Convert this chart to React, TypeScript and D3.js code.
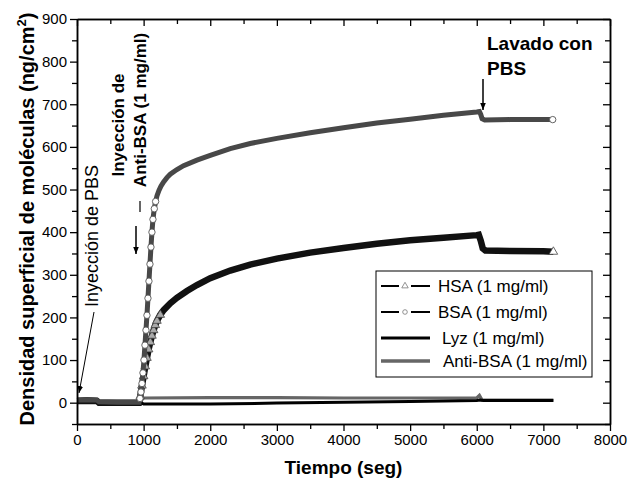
import React, { useEffect, useRef } from 'react';
import * as d3 from 'd3';

// time (s) vs surface density (ng/cm2)
const hsa: [number, number][] = [
  [0, 4], [150, 4], [300, 4], [330, 0], [600, 0], [930, 0], [950, 15], [975, 40],
  [1000, 62], [1025, 85], [1050, 105], [1075, 125], [1100, 142], [1125, 157],
  [1150, 170], [1175, 182], [1200, 192], [1250, 206], [1300, 217], [1400, 233],
  [1500, 246], [1650, 262], [1800, 276], [2000, 292], [2300, 310], [2600, 324],
  [3000, 338], [3500, 352], [4000, 363], [4500, 373], [5000, 381], [5500, 387],
  [6000, 393], [6030, 394], [6060, 380], [6090, 362], [6130, 357], [6500, 356],
  [7000, 355], [7150, 354]
];
const bsa: [number, number][] = [
  [0, 6], [150, 7], [300, 6], [330, 2], [600, 1], [930, 1], [945, 10], [960, 25],
  [975, 45], [990, 70], [1005, 100], [1020, 135], [1035, 170], [1050, 205],
  [1065, 245], [1080, 285], [1095, 325], [1110, 365], [1125, 400], [1140, 430],
  [1160, 455], [1180, 472], [1200, 485], [1230, 498], [1260, 508], [1300, 518],
  [1350, 528], [1400, 536], [1500, 547], [1600, 556], [1800, 569], [2000, 580],
  [2300, 596], [2600, 608], [3000, 620], [3500, 633], [4000, 645], [4500, 656],
  [5000, 665], [5500, 674], [6000, 682], [6040, 683], [6060, 676], [6080, 666],
  [6120, 663], [6500, 664], [7000, 664], [7140, 664]
];
const lyz: [number, number][] = [
  [0, 8], [150, 9], [300, 8], [330, 3], [600, 2], [940, 2], [1000, -3], [2000, -3],
  [3000, -1], [4000, 1], [5000, 3], [6000, 5], [6050, 6], [6100, 5], [7150, 5]
];
const antiBsa: [number, number][] = [
  [0, 3], [300, 4], [330, 0], [600, 0], [940, 1], [1000, 11], [2000, 12], [3000, 12],
  [4000, 11], [5000, 11], [6000, 11], [6040, 17], [6080, 6], [7150, 6]
];

const xTicks = [0, 1000, 2000, 3000, 4000, 5000, 6000, 7000, 8000];
const xMinor = [500, 1500, 2500, 3500, 4500, 5500, 6500, 7500];
const yTicks = [0, 100, 200, 300, 400, 500, 600, 700, 800, 900];
const yMinor = [-50, 50, 150, 250, 350, 450, 550, 650, 750, 850];
const legendLabels = ['HSA (1 mg/ml)', 'BSA (1 mg/ml)', 'Lyz (1 mg/ml)', 'Anti-BSA (1 mg/ml)'];

const FONT = '"Liberation Sans", Arial, Helvetica, sans-serif';

export default function App() {
  const ref = useRef<SVGSVGElement>(null);

  useEffect(() => {
    const svg = d3.select(ref.current);
    svg.selectAll('*').remove();

    const left = 77, right = 610, top = 19, bottom = 424;

    const x = d3.scaleLinear().domain([0, 8000]).range([left, right]);
    const y = d3.scaleLinear().domain([-50, 900]).range([bottom, top]);

    const defs = svg.append('defs');
    defs.append('marker')
      .attr('id', 'arrow')
      .attr('viewBox', '0 0 10 10')
      .attr('refX', 10).attr('refY', 5)
      .attr('markerWidth', 7).attr('markerHeight', 7)
      .attr('markerUnits', 'userSpaceOnUse')
      .attr('orient', 'auto')
      .append('path').attr('d', 'M0,1 L10,5 L0,9 Z').attr('fill', '#000');

    const line = d3.line<[number, number]>().x(d => x(d[0])).y(d => y(d[1]));

    // near-zero series
    svg.append('path').attr('d', line(antiBsa)).attr('fill', 'none')
      .attr('stroke', '#666').attr('stroke-width', 3.2);
    svg.append('path').attr('d', line(lyz)).attr('fill', 'none')
      .attr('stroke', '#000').attr('stroke-width', 3);

    // HSA band + triangles in the rise
    svg.append('path').attr('d', line(hsa)).attr('fill', 'none')
      .attr('stroke', '#111').attr('stroke-width', 6.5);
    const hsaMarks = hsa.filter((d, i) => (d[0] > 930 && d[0] <= 1250) || i === hsa.length - 1);
    svg.append('g').selectAll('path').data(hsaMarks).enter().append('path')
      .attr('d', d3.symbol().type(d3.symbolTriangle).size(32)())
      .attr('transform', d => 'translate(' + x(d[0]) + ',' + y(d[1]) + ')')
      .attr('fill', (d, i) => i === hsaMarks.length - 1 ? '#fff' : '#aaa')
      .attr('stroke', '#444').attr('stroke-width', 0.8);

    // BSA band + circles in the rise
    svg.append('path').attr('d', line(bsa)).attr('fill', 'none')
      .attr('stroke', '#484848').attr('stroke-width', 5);
    const bsaMarks = bsa.filter((d, i) => (d[0] > 930 && d[0] <= 1180) || i === bsa.length - 1);
    svg.append('g').selectAll('circle').data(bsaMarks).enter().append('circle')
      .attr('cx', d => x(d[0])).attr('cy', d => y(d[1])).attr('r', 3.2)
      .attr('fill', '#fff').attr('stroke', '#555').attr('stroke-width', 0.9);

    // axes
    const styleAxis = (g: any) => {
      g.select('.domain').attr('stroke-width', 1.5);
      g.selectAll('.tick line').attr('stroke-width', 1.3);
      g.selectAll('text').attr('font-family', FONT).attr('font-size', 15).attr('fill', '#000');
    };
    const fmt = d3.format('d');

    svg.append('g').attr('transform', 'translate(0,' + bottom + ')')
      .call(d3.axisBottom(x).tickValues(xTicks).tickFormat(fmt).tickSize(7).tickSizeOuter(0).tickPadding(3))
      .call(styleAxis);
    svg.append('g').attr('transform', 'translate(0,' + bottom + ')')
      .call(d3.axisBottom(x).tickValues(xMinor).tickSize(5).tickFormat(() => '').tickSizeOuter(0))
      .call(styleAxis);
    svg.append('g').attr('transform', 'translate(' + left + ',0)')
      .call(d3.axisLeft(y).tickValues(yTicks).tickFormat(fmt).tickSize(7).tickSizeOuter(0).tickPadding(3))
      .call(styleAxis);
    svg.append('g').attr('transform', 'translate(' + left + ',0)')
      .call(d3.axisLeft(y).tickValues(yMinor).tickSize(5).tickFormat(() => '').tickSizeOuter(0))
      .call(styleAxis);
    svg.append('g').attr('transform', 'translate(0,' + top + ')')
      .call(d3.axisTop(x).tickValues(xTicks).tickSize(-7).tickFormat(() => '').tickSizeOuter(0))
      .call(styleAxis);
    svg.append('g').attr('transform', 'translate(0,' + top + ')')
      .call(d3.axisTop(x).tickValues(xMinor).tickSize(-5).tickFormat(() => '').tickSizeOuter(0))
      .call(styleAxis);
    svg.append('g').attr('transform', 'translate(' + right + ',0)')
      .call(d3.axisRight(y).tickValues(yTicks).tickSize(-7).tickFormat(() => '').tickSizeOuter(0))
      .call(styleAxis);
    svg.append('g').attr('transform', 'translate(' + right + ',0)')
      .call(d3.axisRight(y).tickValues(yMinor).tickSize(-5).tickFormat(() => '').tickSizeOuter(0))
      .call(styleAxis);

    // axis titles
    svg.append('text').attr('x', (left + right) / 2).attr('y', 474)
      .attr('text-anchor', 'middle').attr('font-family', FONT).attr('font-size', 19)
      .attr('font-weight', 'bold').text('Tiempo (seg)');
    const yt = svg.append('text').attr('transform', 'translate(34,219) rotate(-90)')
      .attr('text-anchor', 'middle').attr('font-family', FONT).attr('font-size', 20)
      .attr('font-weight', 'bold');
    yt.append('tspan').text('Densidad superficial de moléculas (ng/cm');
    yt.append('tspan').attr('font-size', 13).attr('dy', -8).text('2');
    yt.append('tspan').attr('dy', 8).text(')');

    // annotations
    svg.append('text').attr('transform', 'translate(98,236) rotate(-90)')
      .attr('text-anchor', 'middle').attr('font-family', FONT).attr('font-size', 18)
      .text('Inyección de PBS');
    svg.append('line').attr('x1', 94).attr('y1', 312).attr('x2', 79).attr('y2', 393)
      .attr('stroke', '#000').attr('stroke-width', 1).attr('marker-end', 'url(#arrow)');

    svg.append('text').attr('transform', 'translate(124,125) rotate(-90)')
      .attr('text-anchor', 'middle').attr('font-family', FONT).attr('font-size', 17)
      .attr('font-weight', 'bold').text('Inyección de');
    svg.append('text').attr('transform', 'translate(146,110) rotate(-90)')
      .attr('text-anchor', 'middle').attr('font-family', FONT).attr('font-size', 17)
      .attr('font-weight', 'bold').text('Anti-BSA (1 mg/ml)');
    svg.append('line').attr('x1', 140).attr('y1', 201).attr('x2', 140).attr('y2', 212)
      .attr('stroke', '#000').attr('stroke-width', 1.2);
    svg.append('line').attr('x1', 136).attr('y1', 226).attr('x2', 136).attr('y2', 254)
      .attr('stroke', '#000').attr('stroke-width', 1.5).attr('marker-end', 'url(#arrow)');

    svg.append('text').attr('x', 487).attr('y', 50).attr('font-family', FONT)
      .attr('font-size', 19).attr('font-weight', 'bold').text('Lavado con');
    svg.append('text').attr('x', 487).attr('y', 75).attr('font-family', FONT)
      .attr('font-size', 19).attr('font-weight', 'bold').text('PBS');
    svg.append('line').attr('x1', 483).attr('y1', 79).attr('x2', 483).attr('y2', 110)
      .attr('stroke', '#000').attr('stroke-width', 1.5).attr('marker-end', 'url(#arrow)');

    // legend
    const lg = svg.append('g');
    lg.append('rect').attr('x', 376).attr('y', 271).attr('width', 216).attr('height', 106)
      .attr('fill', '#fff').attr('stroke', '#000').attr('stroke-width', 1);
    const rowY = [286, 312, 338, 361];
    const textX = [438, 438, 442, 443];
    legendLabels.forEach((label, i) => {
      const cy = rowY[i];
      if (i < 2) {
        lg.append('line').attr('x1', 381).attr('x2', 399).attr('y1', cy).attr('y2', cy)
          .attr('stroke', '#000').attr('stroke-width', 2);
        lg.append('line').attr('x1', 411).attr('x2', 430).attr('y1', cy).attr('y2', cy)
          .attr('stroke', '#000').attr('stroke-width', 2);
        if (i === 0) {
          lg.append('path').attr('d', d3.symbol().type(d3.symbolTriangle).size(18)())
            .attr('transform', 'translate(405,' + cy + ')')
            .attr('fill', '#fff').attr('stroke', '#777').attr('stroke-width', 0.8);
        } else {
          lg.append('circle').attr('cx', 405).attr('cy', cy).attr('r', 2.3)
            .attr('fill', '#fff').attr('stroke', '#777').attr('stroke-width', 0.8);
        }
      } else {
        lg.append('line').attr('x1', 381).attr('x2', 430).attr('y1', cy).attr('y2', cy)
          .attr('stroke', i === 2 ? '#000' : '#666').attr('stroke-width', i === 2 ? 3 : 3.5);
      }
      lg.append('text').attr('x', textX[i]).attr('y', cy).attr('dy', '0.35em')
        .attr('font-family', FONT).attr('font-size', 17).text(label);
    });
  }, []);

  return (
    <div style={{ position: 'absolute', left: 0, top: 0 }}>
      <svg ref={ref} width={629} height={479} style={{ display: 'block', background: '#fff' }} />
    </div>
  );
}
